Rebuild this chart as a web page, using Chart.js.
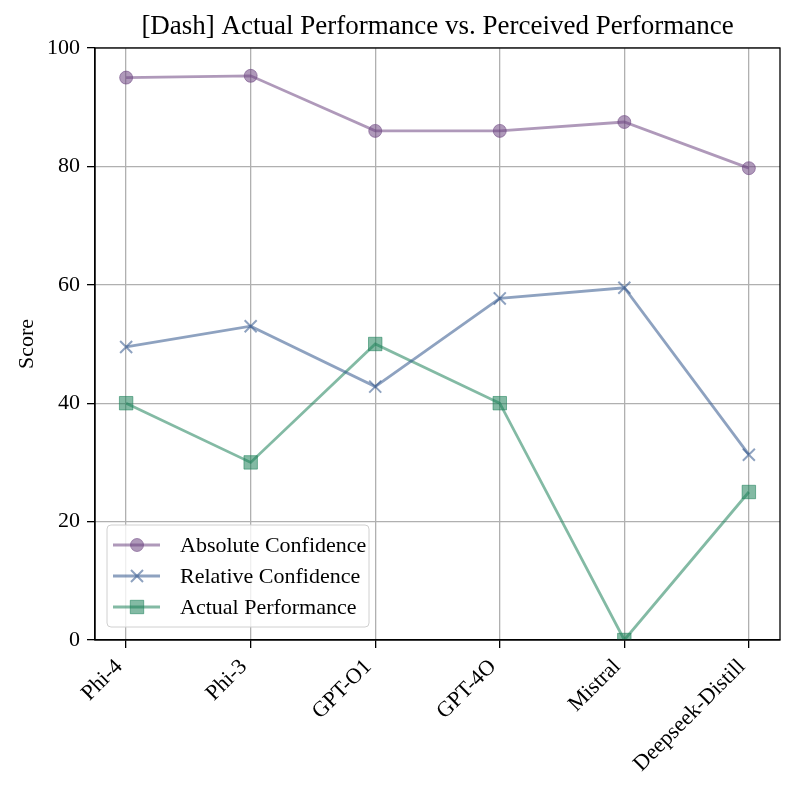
<!DOCTYPE html>
<html>
<head>
<meta charset="utf-8">
<script src="https://cdn.jsdelivr.net/npm/chart.js@4.4.1/dist/chart.umd.min.js"></script>
<style>
  html, body { margin: 0; padding: 0; background: #fff; }
  #wrap { width: 793px; height: 793px; }
</style>
</head>
<body>
<div id="wrap"><canvas id="perfChart"></canvas></div>
<script>
// Models and scores
const models = ['Phi-4', 'Phi-3', 'GPT-O1', 'GPT-4O', 'Mistral', 'Deepseek-Distill'];
const absoluteConfidence = [95.0, 95.3, 86.0, 86.0, 87.5, 79.7];
const relativeConfidence = [49.5, 53.0, 42.8, 57.7, 59.5, 31.3];
const actualPerformance = [40, 30, 50, 40, 0, 25];
const yTicks = [0, 20, 40, 60, 80, 100];

const chartTitle = '[Dash] Actual Performance vs. Perceived Performance';
const serif = "'Liberation Serif', 'Times New Roman', serif";

const toPoints = arr => arr.map((v, i) => ({ x: i, y: v }));

// frame, title over the plot, legend inside lower left
const framePlugin = {
    id: 'frame',
    afterDraw(chart) {
        const { ctx, chartArea: a } = chart;
        ctx.save();
        ctx.strokeStyle = '#000';
        ctx.lineWidth = 1.3;
        ctx.strokeRect(a.left, a.top, a.right - a.left, a.bottom - a.top);

        ctx.fillStyle = '#000';
        ctx.font = '27px ' + serif;
        ctx.textAlign = 'center';
        ctx.textBaseline = 'middle';
        ctx.fillText(chartTitle, (a.left + a.right) / 2, a.top - 21);

        // legend box
        const bx = a.left + 12, by = a.bottom - 115, bw = 262, bh = 102;
        ctx.beginPath();
        ctx.roundRect(bx, by, bw, bh, 4);
        ctx.fillStyle = 'rgba(255,255,255,0.8)';
        ctx.fill();
        ctx.strokeStyle = '#d0d0d0';
        ctx.lineWidth = 1;
        ctx.stroke();

        ctx.font = '22px ' + serif;
        ctx.textAlign = 'left';
        chart.data.datasets.forEach((ds, i) => {
            const y = by + 20 + i * 31;
            ctx.strokeStyle = ds.borderColor;
            ctx.lineWidth = ds.borderWidth;
            ctx.beginPath();
            ctx.moveTo(bx + 6, y);
            ctx.lineTo(bx + 53, y);
            ctx.stroke();
            ctx.fillStyle = ds.pointBackgroundColor;
            ctx.strokeStyle = ds.pointBorderColor;
            ctx.lineWidth = ds.pointBorderWidth;
            Chart.helpers.drawPoint(ctx, {
                pointStyle: ds.pointStyle,
                radius: ds.pointRadius,
                borderWidth: ds.pointBorderWidth
            }, bx + 30, y);
            ctx.fillStyle = '#000';
            ctx.fillText(ds.label, bx + 73, y + 1);
        });
        ctx.restore();
    }
};

const purple = 'rgba(110, 70, 130, 0.55)';
const blue = 'rgba(50, 85, 140, 0.55)';
const green = 'rgba(30, 130, 90, 0.55)';

const perfData = {
    datasets: [{
        label: 'Absolute Confidence',
        data: toPoints(absoluteConfidence),
        borderColor: purple,
        backgroundColor: purple,
        pointBackgroundColor: purple,
        pointBorderColor: purple,
        borderWidth: 2.8,
        pointStyle: 'circle',
        pointRadius: 6.5,
        pointBorderWidth: 1
    }, {
        label: 'Relative Confidence',
        data: toPoints(relativeConfidence),
        borderColor: blue,
        backgroundColor: blue,
        pointBackgroundColor: blue,
        pointBorderColor: blue,
        borderWidth: 2.8,
        pointStyle: 'crossRot',
        pointRadius: 8.5,
        pointBorderWidth: 2
    }, {
        label: 'Actual Performance',
        data: toPoints(actualPerformance),
        borderColor: green,
        backgroundColor: green,
        pointBackgroundColor: green,
        pointBorderColor: green,
        borderWidth: 2.8,
        pointStyle: 'rect',
        pointRadius: 9.5,
        pointBorderWidth: 1
    }]
};

const perfConfig = {
    type: 'line',
    data: perfData,
    options: {
        responsive: true,
        maintainAspectRatio: false,
        animation: false,
        layout: { padding: { left: 0, right: 13, top: 48, bottom: 0 } },
        plugins: {
            legend: { display: false },
            tooltip: { enabled: false },
            title: { display: false }
        },
        scales: {
            x: {
                type: 'linear',
                min: -0.25,
                max: 5.25,
                afterBuildTicks: s => { s.ticks = models.map((_, i) => ({ value: i })); },
                afterFit: s => { s.height = 153; },
                ticks: {
                    callback: v => models[v],
                    autoSkip: false,
                    minRotation: 45,
                    maxRotation: 45,
                    color: '#000',
                    padding: 6,
                    labelOffset: -7,
                    font: { family: serif, size: 22 }
                },
                grid: { color: '#b0b0b0', lineWidth: 1.3, tickColor: '#000', tickLength: 8 },
                border: { color: '#000', width: 1.3 }
            },
            y: {
                min: 0,
                max: 100,
                afterBuildTicks: s => { s.ticks = yTicks.map(v => ({ value: v })); },
                afterFit: s => { s.width = 95; },
                ticks: {
                    color: '#000',
                    padding: 7,
                    font: { family: serif, size: 22 }
                },
                title: {
                    display: true,
                    text: 'Score',
                    color: '#000',
                    font: { family: serif, size: 22 },
                    padding: { top: 14, bottom: 0 }
                },
                grid: { color: '#b0b0b0', lineWidth: 1.3, tickColor: '#000', tickLength: 8 },
                border: { color: '#000', width: 1.3 }
            }
        }
    },
    plugins: [framePlugin]
};

const perfChart = new Chart(
    document.getElementById('perfChart'),
    perfConfig
);
</script>
</body>
</html>
